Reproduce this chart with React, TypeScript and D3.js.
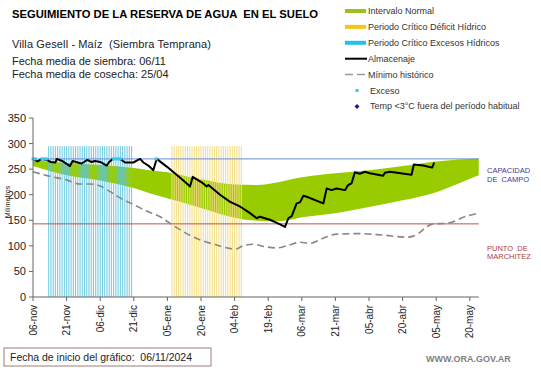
import React from "react"
import * as d3 from "d3"

// eje x: dias desde 06/11/2024, ticks cada 15 dias
const tickLabels = ["06-nov", "21-nov", "06-dic", "21-dic", "05-ene", "20-ene", "04-feb", "19-feb", "06-mar", "21-mar", "05-abr", "20-abr", "05-may", "20-may"]
const yTicks = [0, 50, 100, 150, 200, 250, 300, 350]

const capacidadCampo = 270
const puntoMarchitez = 143
const barTop = 295

// periodos criticos (dia inicial, dia final)
const excesoPeriod = [7, 44]
const deficitPeriod = [62, 93]

// intervalo normal
const bandDays = [0, 15, 30, 45, 52, 60, 75, 90, 100, 110, 120, 135, 150, 165, 180, 190, 199]
const bandUpper = [268, 262, 258, 252, 248, 244, 230, 220, 219, 225, 234, 242, 248, 256, 265, 269, 271]
const bandLower = [256, 238, 228, 213, 203, 193, 174, 155, 149, 148, 156, 164, 176, 189, 205, 222, 238]

// almacenaje
const almDays = [0, 2, 4, 6, 8, 10, 10.6, 13, 16.5, 17.7, 20, 21.7, 24.3, 26, 27.7, 30, 32.9, 34, 35.6, 38.8, 41.1, 44.8, 46.5, 47.8, 49.3, 51.5, 53.7, 55.2, 59.7, 64.1, 67.9, 70.1, 71.3, 76, 77.5, 78.3, 83.5, 88, 90.9, 92.4, 96.9, 99.9, 101.3, 105.8, 110.3, 112.5, 114, 115.5, 117.7, 119.2, 120.7, 122.2, 129.6, 131.1, 133.3, 135.5, 139.3, 140.7, 142.2, 143.7, 145.9, 148.2, 150.4, 156.3, 157.1, 159.3, 169, 170, 174.2, 178.2, 179.1]
const almValues = [270, 265, 270, 268, 264, 263, 270, 266, 256, 266, 263, 261, 268, 264, 266, 264, 257, 264, 270, 270, 263, 263, 267, 270, 263, 257, 248, 270, 255, 239, 225, 216, 235, 222, 216, 219, 200, 186, 180, 177, 164, 154, 157, 151, 142, 137, 154, 158, 183, 185, 198, 196, 183, 212, 209, 212, 209, 219, 222, 244, 241, 245, 242, 237, 243, 245, 239, 259, 257, 253, 263]

// minimo historico
const minDays = [0, 7.6, 15, 21, 25.5, 30, 34.4, 40.4, 44.8, 50.7, 56.7, 61.2, 68.6, 74.4, 81.7, 87.7, 90.7, 93.7, 98.2, 104, 109, 114.7, 119.2, 123.7, 129.6, 135.6, 146, 156.3, 166.8, 169.8, 178.7, 184.7, 193.5, 198.7]
const minValues = [245, 236, 229, 221, 221, 217, 206, 190, 181, 168, 157, 144, 124, 112, 102, 95, 94, 100, 103, 98, 96, 102, 107, 105, 115, 123, 124, 121, 117, 119, 143, 144, 158, 164]

// excesos
const excesoDays = [0, 1, 4, 5, 6, 36, 37, 38, 39, 55]

const legendItems = [
  { label: "Intervalo Normal", kind: "rect", color: "#99c31c" },
  { label: "Periodo Crítico Déficit Hídrico", kind: "rect", color: "#f5c518" },
  { label: "Periodo Crítico Excesos Hídricos", kind: "rect", color: "#22c0ec" },
  { label: "Almacenaje", kind: "line", color: "#000" },
  { label: "Mínimo histórico", kind: "dash", color: "#999" },
  { label: "Exceso", kind: "dot", color: "#33ccee" },
  { label: "Temp <3°C fuera del período habitual", kind: "diamond", color: "#1a1a99" },
]

const font = "'Liberation Sans', Arial, sans-serif"
const sp = "\u00a0"

export default function App() {
  const width = 541
  const height = 368
  const x = d3.scaleLinear().domain([0, 199]).range([33, 33 + 199 * 2.24])
  const y = d3.scaleLinear().domain([0, 350]).range([297, 118])
  const x0 = x.range()[0]
  const x1 = x.range()[1]

  const band = d3
    .area<number>()
    .x((d) => x(bandDays[d]))
    .y0((d) => y(bandLower[d]))
    .y1((d) => y(bandUpper[d]))
    .curve(d3.curveMonotoneX)(d3.range(bandDays.length))

  const almLine = d3
    .line<number>()
    .x((d) => x(almDays[d]))
    .y((d) => y(almValues[d]))(d3.range(almDays.length))

  const minLine = d3
    .line<number>()
    .x((d) => x(minDays[d]))
    .y((d) => y(minValues[d]))
    .curve(d3.curveMonotoneX)(d3.range(minDays.length))

  const excesoBars = d3.range(excesoPeriod[0], excesoPeriod[1] + 1)
  const deficitBars = d3.range(deficitPeriod[0], deficitPeriod[1] + 1)

  return (
    <svg width={width} height={height} style={{ position: "absolute", left: 0, top: 0, background: "#fff" }} fontFamily={font}>
      <rect width={width} height={height} fill="#fff" />
      <text x={12} y={18} fontSize={10} fontWeight="bold" textLength={306} lengthAdjust="spacingAndGlyphs">
        {`SEGUIMIENTO DE LA RESERVA DE AGUA ${sp}EN EL SUELO`}
      </text>
      <text x={12} y={48} fontSize={11} fill="#222" textLength={199}>{`Villa Gesell - Maíz ${sp}(Siembra Temprana)`}</text>
      <text x={12} y={65} fontSize={11} fill="#222">Fecha media de siembra: 06/11</text>
      <text x={12} y={78} fontSize={11} fill="#222">Fecha media de cosecha: 25/04</text>

      {/* leyenda */}
      {legendItems.map((it, i) => {
        const ly = 11 + i * 15.9
        return (
          <g key={it.label}>
            {it.kind === "rect" && <rect x={345} y={ly - 2} width={21} height={4} fill={it.color} />}
            {it.kind === "line" && <line x1={345} x2={367} y1={ly} y2={ly} stroke={it.color} strokeWidth={2} />}
            {it.kind === "dash" && <line x1={345} x2={367} y1={ly} y2={ly} stroke={it.color} strokeWidth={1.5} strokeDasharray="8,4" />}
            {it.kind === "dot" && <rect x={355.5} y={ly - 1.5} width={3} height={3} fill={it.color} />}
            {it.kind === "diamond" && (
              <path d={`M357,${ly - 2.5}L359.5,${ly}L357,${ly + 2.5}L354.5,${ly}Z`} fill={it.color} />
            )}
            <text x={it.kind === "dot" || it.kind === "diamond" ? 370 : 368} y={ly + 3} fontSize={9} fill="#333">
              {it.label}
            </text>
          </g>
        )
      })}

      {/* intervalo normal */}
      <path d={band ?? ""} fill="#99cc00" />

      {/* periodos criticos */}
      {excesoBars.map((d) => (
        <rect key={"e" + d} x={x(d) - 0.55} y={y(barTop)} width={1.1} height={y(0) - y(barTop)} fill="#5fc4dc" opacity={0.85} />
      ))}
      {deficitBars.map((d) => (
        <rect key={"d" + d} x={x(d) - 0.55} y={y(barTop)} width={1.1} height={y(0) - y(barTop)} fill="#f2dc80" opacity={0.9} />
      ))}

      {/* capacidad de campo y punto de marchitez */}
      <line x1={x0} x2={x1} y1={y(capacidadCampo)} y2={y(capacidadCampo)} stroke="#6a8ed6" strokeWidth={1} />
      <line x1={x0} x2={x1} y1={y(puntoMarchitez)} y2={y(puntoMarchitez)} stroke="#c05050" strokeWidth={1} />

      <path d={minLine ?? ""} fill="none" stroke="#888" strokeWidth={1.6} strokeDasharray="7,4" />
      <path d={almLine ?? ""} fill="none" stroke="#000" strokeWidth={2} strokeLinejoin="round" />

      {excesoDays.map((d) => (
        <rect key={"x" + d} x={x(d) - 1.5} y={y(capacidadCampo) - 1.5} width={3} height={3} fill="#33ccee" />
      ))}

      {/* ejes */}
      <line x1={x0} x2={x0} y1={y(350)} y2={y(0)} stroke="#666" />
      <line x1={x0} x2={x1} y1={y(0)} y2={y(0)} stroke="#666" />
      {yTicks.map((t) => (
        <g key={t}>
          <line x1={x0 - 4} x2={x0} y1={y(t)} y2={y(t)} stroke="#666" />
          <text x={26} y={y(t) + 4} fontSize={11} textAnchor="end" fill="#222">{t}</text>
        </g>
      ))}
      {tickLabels.map((l, i) => (
        <g key={l}>
          <line x1={x(i * 15)} x2={x(i * 15)} y1={y(0)} y2={y(0) + 4} stroke="#666" />
          <text transform={`translate(${x(i * 15) + 3.5},305) rotate(-90)`} fontSize={10} textAnchor="end" fill="#222">
            {l}
          </text>
        </g>
      ))}
      <text transform="translate(9.5,202) rotate(-90)" fontSize={7} textAnchor="middle" fill="#222">Milímetros</text>

      <text x={487} y={172.5} fontSize={7.5} fill="#3b3b9b">CAPACIDAD</text>
      <text x={487} y={181.5} fontSize={7.5} fill="#3b3b9b">{`DE ${sp}CAMPO`}</text>
      <text x={487} y={250.5} fontSize={7.5} fill="#b04040">{`PUNTO ${sp}DE`}</text>
      <text x={487} y={258.5} fontSize={7.5} fill="#b04040">MARCHITEZ</text>

      <rect x={4} y={348} width={207} height={18} fill="#fff" stroke="#9b7f7f" />
      <text x={10} y={361} fontSize={10} fill="#222" textLength={182} lengthAdjust="spacingAndGlyphs">
        {`Fecha de inicio del gráfico: ${sp}06/11/2024`}
      </text>
      <text x={426} y={362} fontSize={9} fontWeight="bold" fill="#7f7f7f">WWW.ORA.GOV.AR</text>
    </svg>
  )
}
